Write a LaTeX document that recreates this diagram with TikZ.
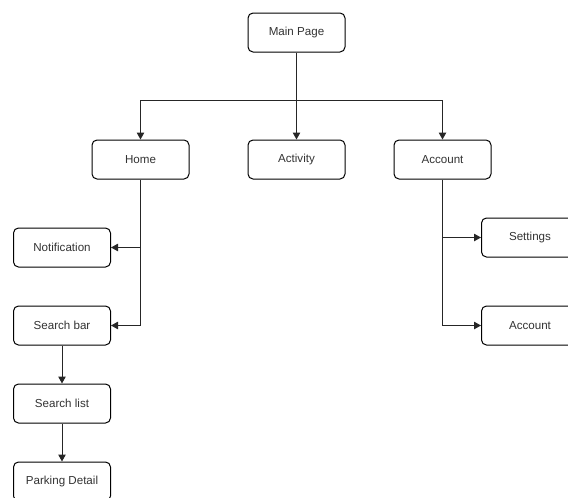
\documentclass[tikz,border=0pt]{standalone}
\usepackage{fontspec}
\setmainfont{Liberation Sans}
\usetikzlibrary{arrows.meta}
\begin{document}
\begin{tikzpicture}[x=1pt,y=-1pt,
  box/.style={draw=black, line width=1pt, rounded corners=5pt,
    minimum width=97pt, minimum height=39pt, inner sep=0pt,
    text=black!80, font=\fontsize{11.6}{13}\selectfont},
  wire/.style={draw=black!85, line width=1pt},
  link/.style={wire, -{Triangle[length=7pt,width=7.5pt]}}]
\clip (0,0) rectangle (568,498);
\fill[white] (0,0) rectangle (568,498);

% top level
\node[box] (main) at (296.5,32.5) {Main Page};
\node[box] (home) at (140.5,159.5) {Home};
\node[box] (act) at (296.5,159.5) {Activity};
\node[box] (acc) at (442.5,159.5) {Account};

% home branch
\node[box] (notif) at (62,247.5) {Notification};
\node[box] (search) at (62,325.5) {Search bar};
\node[box] (list) at (62,403.5) {Search list};
\node[box] (park) at (62,481.5) {Parking Detail};

% account branch
\node[box] (sett) at (530,237.5) {Settings};
\node[box] (acc2) at (530,325.5) {Account};

% connectors
\coordinate (split) at (296.5,100.5);
\draw[wire] (main.south) -- (split);
\draw[link] (split) -| (home.north);
\draw[link] (split) -- (act.north);
\draw[link] (split) -| (acc.north);

\draw[link] (home.south) |- (search.east);
\draw[link] (home.south |- notif.east) -- (notif.east);
\draw[link] (search.south) -- (list.north);
\draw[link] (list.south) -- (park.north);

\draw[link] (acc.south) |- (acc2.west);
\draw[link] (acc.south |- sett.west) -- (sett.west);
\end{tikzpicture}
\end{document}
